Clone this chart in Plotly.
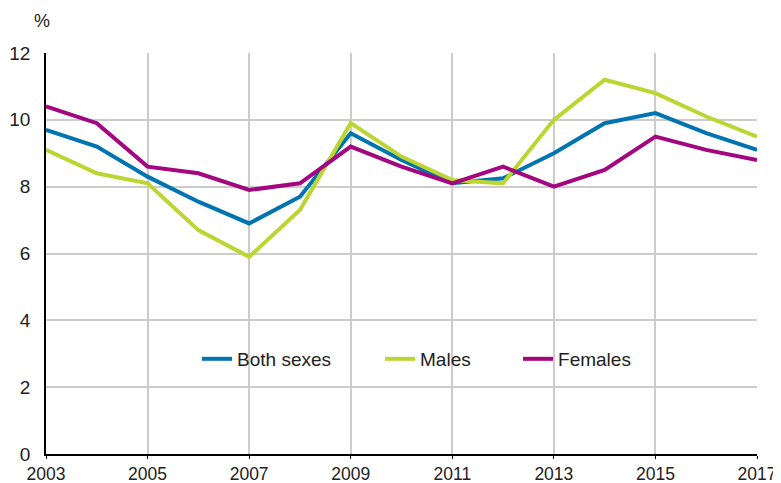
import plotly.graph_objects as go

years = list(range(2003, 2018))
both_sexes = [9.7, 9.2, 8.3, 7.55, 6.9, 7.7, 9.6, 8.8, 8.1, 8.25, 9.0, 9.9, 10.2, 9.6, 9.1]
males = [9.1, 8.4, 8.1, 6.7, 5.9, 7.3, 9.9, 8.9, 8.2, 8.1, 10.0, 11.2, 10.8, 10.1, 9.5]
females = [10.4, 9.9, 8.6, 8.4, 7.9, 8.1, 9.2, 8.6, 8.1, 8.6, 8.0, 8.5, 9.5, 9.1, 8.8]
x_ticks = list(range(2003, 2018, 2))
y_ticks = [0, 2, 4, 6, 8, 10, 12]

series = [
    ("Both sexes", both_sexes, "#0074B1", "legend", 0.2124),
    ("Males", males, "#BCD531", "legend2", 0.4698),
    ("Females", females, "#A3067F", "legend3", 0.6639),
]

font = "Liberation Sans, Arial, sans-serif"
fig = go.Figure()
legends = {}
for name, vals, col, lg, lx in series:
    fig.add_trace(go.Scatter(x=years, y=vals, mode="lines", name=name, legend=lg,
                             line=dict(color=col, width=4)))
    legends[lg] = dict(orientation="h", x=lx, xanchor="left", y=0.237, yanchor="middle",
                       font=dict(size=19, family=font, color="#222222"),
                       bgcolor="rgba(0,0,0,0)", borderwidth=0)

fig.update_layout(
    width=773, height=475,
    margin=dict(l=38, r=24, t=45, b=29),
    paper_bgcolor="white", plot_bgcolor="white",
    font=dict(family=font, size=19, color="#222222"),
    showlegend=True,
    xaxis=dict(range=[2003, 2017], tickvals=x_ticks, ticktext=[str(t) for t in x_ticks],
               tickfont=dict(size=17.5),
               showgrid=True, gridcolor="#cccccc", gridwidth=1.5, automargin=False,
               showline=True, linecolor="black", linewidth=1.5,
               ticks="outside", ticklen=3, tickcolor="black", zeroline=False),
    yaxis=dict(range=[0, 12], tickvals=y_ticks, showgrid=True, gridcolor="#cccccc", gridwidth=1.5,
               showline=True, linecolor="black", linewidth=1.5, ticks="", ticklabelstandoff=10,
               automargin=False, zeroline=False),
    annotations=[dict(text="%", x=-0.0056, xref="paper", xanchor="center",
                      y=1.0798, yref="paper", yanchor="middle",
                      showarrow=False, font=dict(size=18, family=font, color="#222222"))],
    **legends,
)

fig.write_html("out.html")
